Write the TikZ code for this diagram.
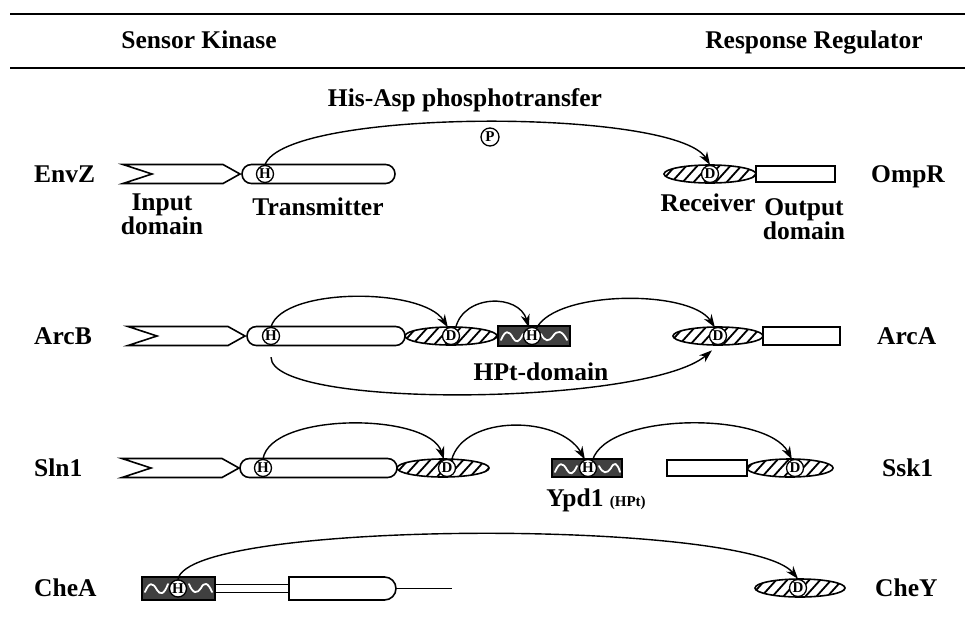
\documentclass[tikz,border=0pt]{standalone}
\usepackage{fontspec}
\setmainfont{Liberation Serif}
\usetikzlibrary{arrows.meta,shapes.misc}
\tikzset{
  lbl/.style={font=\bfseries\fontsize{25.5}{21}\selectfont, inner sep=0pt, align=center},
  site/.style={circle, draw, line width=1.3pt, fill=white, inner sep=0pt, minimum size=17pt,
               font=\bfseries\fontsize{15}{15}\selectfont},
  dom/.style={line width=1.6pt},
  rule/.style={line width=1.8pt},
  arr/.style={line width=1.4pt, -{Stealth[length=13pt,width=9pt]}},
  wave/.style={white, line width=1.8pt, line join=round, line cap=round}
}
% receiver: name, cx, cy, rx, dx
\newcommand\recv[5]{%
  \begin{scope}
    \clip (#2,#3) ellipse[x radius=#4, y radius=9];
    \foreach \k in {0,...,14} \draw[line width=1.8pt] (#2-75+\k*11-9,#3+10) -- (#2-75+\k*11+9,#3-10);
  \end{scope}
  \draw[dom] (#2,#3) ellipse[x radius=#4, y radius=9];
  \node[site] (#1) at (#5,#3) {D};
}
% input domain chevron: left x, cy
\newcommand\chev[2]{%
  \draw[dom] (#1,#2-9.5) -- (#1+100,#2-9.5) -- (#1+117,#2) -- (#1+100,#2+9.5) -- (#1,#2+9.5) -- (#1+29,#2) -- cycle;
}
\begin{document}
\begin{tikzpicture}[x=1pt,y=-1pt]
\useasboundingbox (0,0) rectangle (965,621);

% header
\draw[rule] (10,14) -- (965,14);
\draw[rule] (10,68) -- (965,68);
\node[lbl, anchor=base] (sk) at (199,48) {Sensor Kinase};
\node[lbl, anchor=base] (rr) at (814,48) {Response Regulator};

% ---------------- EnvZ / OmpR
\node[lbl, anchor=base west] (envz) at (34,182) {EnvZ};
\chev{123}{174}
\draw[dom, rounded corners=9.4pt] (242,164.5) rectangle (395,183.5);
\node[site] (h1) at (265,174) {H};
\recv{d1}{710}{174}{46}{710}
\draw[dom] (756,166) rectangle (835,182);
\node[lbl, anchor=base west] (ompr) at (871,182) {OmpR};
\node[lbl] (inp) at (162,214) {Input\\domain};
\node[lbl] (trm) at (318,207) {Transmitter};
\node[lbl] (rec) at (708,203) {Receiver};
\node[lbl] (outd) at (804,219) {Output\\domain};
\node[lbl] (hisasp) at (465,100) {His-Asp phosphotransfer};
\node[site, minimum size=18pt, font=\bfseries\fontsize{15}{15}\selectfont] (p) at (490,137) {P};
\draw[arr] (h1.north) .. controls +(20,-57) and +(-35,-57) .. (d1.north);

% ---------------- ArcB / ArcA
\node[lbl, anchor=base west] (arcb) at (34,344) {ArcB};
\chev{128}{336}
\draw[dom, rounded corners=9.4pt] (247,326.5) rectangle (405,345.5);
\node[site] (h2) at (271,336) {H};
\recv{d2}{451}{336}{46}{451}
% HPt domain
\fill[black!75] (498,326) rectangle (570,346);
\draw[wave] (501,340) .. controls (505,330) and (509,330) .. (513,338) .. controls (516,343) and (519,343) .. (523,334);
\draw[wave] (541,334) .. controls (545,342) and (549,342) .. (553,336) .. controls (557,330) and (562,330) .. (567,340);
\draw[dom] (498,326) rectangle (570,346);
\node[site] (h3) at (532,336) {H};
\recv{d3}{718}{336}{45}{718}
\draw[dom] (763,327) rectangle (840,345);
\node[lbl, anchor=base west] (arca) at (877,344) {ArcA};
\node[lbl] (hptd) at (541,372) {HPt-domain};
\draw[arr] (h2.north) .. controls +(12,-40) and +(-25,-40) .. (d2.110);
\draw[arr] (d2.60) .. controls +(8,-34) and +(-10,-34) .. (h3.110);
\draw[arr] (h3.60) .. controls +(20,-38) and +(-25,-38) .. (d3.110);
\draw[arr, shorten <=12pt, shorten >=8pt] (h2.south) .. controls +(0,65) and +(-70,60) .. (d3.south);

% ---------------- Sln1 / Ypd1 / Ssk1
\node[lbl, anchor=base west] (sln1) at (34,476) {Sln1};
\chev{122}{468}
\draw[dom, rounded corners=9.4pt] (240,458.5) rectangle (397,477.5);
\node[site] (h4) at (263,468) {H};
\recv{d4}{443}{468}{46}{447}
\fill[black!75] (552,459) rectangle (622,477);
\draw[wave] (555,472) .. controls (559,462) and (563,462) .. (567,470) .. controls (570,475) and (573,475) .. (577,466);
\draw[wave] (599,466) .. controls (603,474) and (607,474) .. (611,468) .. controls (614,462) and (617,462) .. (620,472);
\draw[dom] (552,459) rectangle (622,477);
\node[site] (h5) at (588,468) {H};
\draw[dom] (667,460) rectangle (747,476);
\recv{d5}{790}{468}{43}{795}
\node[lbl, anchor=base west] (ssk1) at (882,476) {Ssk1};
\node[lbl] (ypd) at (596,500) {Ypd1 {\fontsize{15}{15}\selectfont(HPt)}};
\draw[arr] (h4.north) .. controls +(8,-47) and +(-15,-47) .. (d4.110);
\draw[arr] (d4.60) .. controls +(12,-46) and +(-25,-44) .. (h5.110);
\draw[arr] (h5.60) .. controls +(15,-48) and +(-25,-48) .. (d5.110);

% ---------------- CheA / CheY
\node[lbl, anchor=base west] (chea) at (34,596) {CheA};
\fill[black!75] (142,577) rectangle (215,600);
\draw[wave] (145,592) .. controls (149,582) and (153,582) .. (157,590) .. controls (160,595) and (164,595) .. (168,584);
\draw[wave] (189,584) .. controls (193,594) and (197,594) .. (201,588) .. controls (204,582) and (208,582) .. (212,592);
\draw[dom] (142,577) rectangle (215,600);
\node[site] (h6) at (178,588.5) {H};
\draw[dom] (215,584.5) -- (289,584.5);
\draw[dom] (215,592.5) -- (289,592.5);
\node[draw, dom, rounded rectangle, rounded rectangle left arc=none, minimum width=107pt,
      minimum height=23pt, inner sep=0pt] (chew) at (342.5,588.5) {};
\draw[line width=1pt] (chew.east) -- (452,588.5);
\recv{d6}{800}{588}{45}{798}
\node[lbl, anchor=base west] (chey) at (875,596) {CheY};
\draw[arr] (h6.north) .. controls +(10,-60) and +(-50,-60) .. (d6.north);
\end{tikzpicture}
\end{document}
